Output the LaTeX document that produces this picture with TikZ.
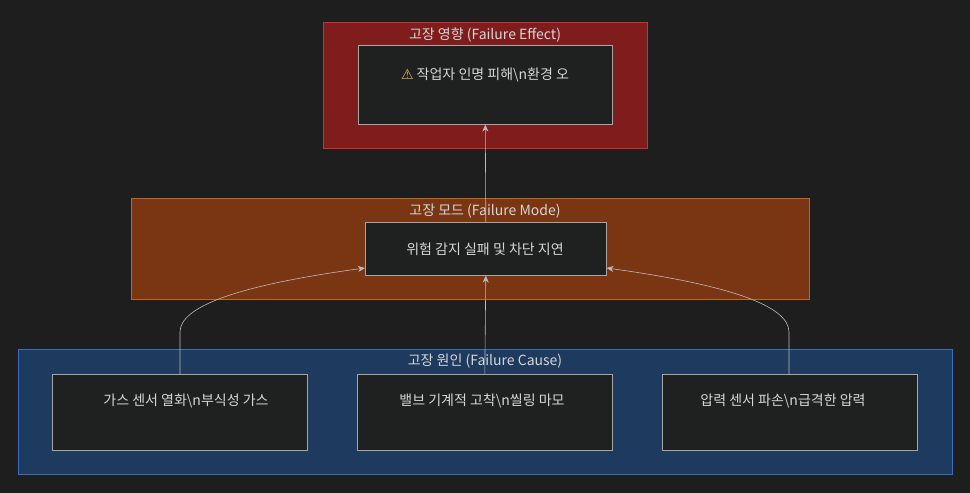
\documentclass[tikz,border=0pt]{standalone}
\usepackage{fontspec}
\setmainfont{Noto Sans CJK KR}
\newfontfamily\symfont{DejaVu Sans}
\usetikzlibrary{arrows.meta}
\definecolor{bgc}{HTML}{1E1E1E}
\definecolor{boxc}{HTML}{1F2020}
\definecolor{edgec}{HTML}{BBBBBB}
\definecolor{txtc}{HTML}{D6D6D6}
\definecolor{redf}{HTML}{7F1D1D}
\definecolor{redd}{HTML}{D62C2C}
\definecolor{orgf}{HTML}{7A3512}
\definecolor{orgd}{HTML}{C6660F}
\definecolor{bluf}{HTML}{1E3A5F}
\definecolor{blud}{HTML}{3B6FC4}
\definecolor{warnc}{HTML}{F2B84B}

\tikzset{
  grp/.style={draw=#1, line width=1pt},
  box/.style={draw=gray!70, fill=boxc, line width=0.6pt, minimum width=255pt, minimum height=76pt, inner sep=0pt, anchor=north west},
  txt/.style={text=txtc, font=\fontsize{14}{16}\selectfont, inner sep=0pt},
  link/.style={draw=edgec, line width=0.6pt, -{Stealth[length=7pt,width=6pt]}}
}

\begin{document}
\begin{tikzpicture}[x=1pt,y=-1pt]
        \fill[bgc] (0,0) rectangle (970,493);
        \useasboundingbox (0,0) rectangle (970,493);

        %groups
        \filldraw[grp=redd, fill=redf] (323,22) rectangle (647,148);
        \filldraw[grp=orgd, fill=orgf] (131,198) rectangle (809,299);
        \filldraw[grp=blud, fill=bluf] (18,349) rectangle (952,474);
        \node[txt] (geff) at (485,35) {고장 영향 (Failure Effect)};
        \node[txt] (gmod) at (485,211) {고장 모드 (Failure Mode)};
        \node[txt] (gcau) at (485,361) {고장 원인 (Failure Cause)};

        %nodes
        \node[box, minimum width=254pt, minimum height=79pt] (eff) at (358,45) {};
        \node[box, minimum width=241pt, minimum height=53pt] (mod) at (365,222) {};
        \node[box] (c1) at (52,374) {};
        \node[box] (c2) at (357,374) {};
        \node[box] (c3) at (662,374) {};

        \node[txt] (teff) at (485,75) {{\symfont\color{warnc}⚠} 작업자 인명 피해\textbackslash n환경 오};
        \node[txt] (tmod) at (485,249) {위험 감지 실패 및 차단 지연};
        \node[txt] (tc1) at (186,401) {가스 센서 열화\textbackslash n부식성 가스};
        \node[txt] (tc2) at (482,401) {밸브 기계적 고착\textbackslash n씰링 마모};
        \node[txt] (tc3) at (783,401) {압력 센서 파손\textbackslash n급격한 압력};

        %edges
        \draw[link] (c1.north -| 180,0) -- ++(0,-42) .. controls (180,306) and (240,285) .. (mod.west |- 0,268);
        \draw[link] (c2.north) -- (mod.south);
        \draw[link] (c3.north -| 789,0) -- ++(0,-42) .. controls (789,306) and (730,285) .. (mod.east |- 0,268);
        \draw[link] (mod.north) -- (eff.south);
\end{tikzpicture}
\end{document}
